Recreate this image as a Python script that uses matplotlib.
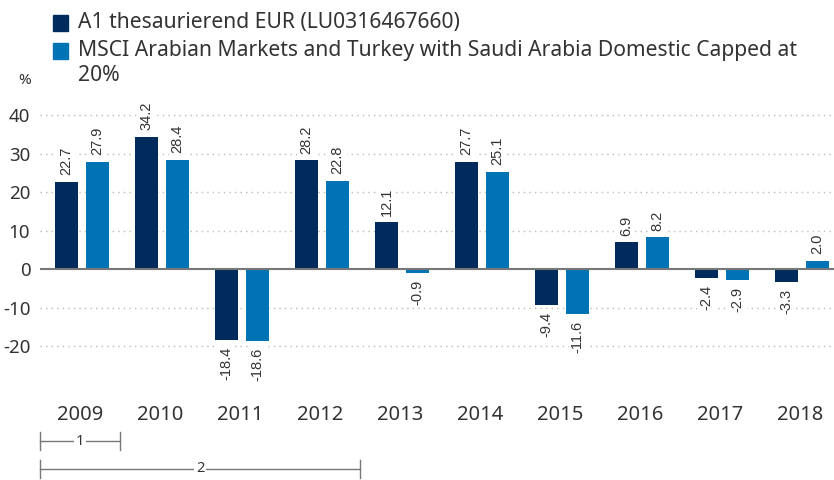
"""
Annual performance bar chart: fund vs. benchmark
"""
import matplotlib
matplotlib.use("Agg")
import matplotlib.pyplot as plt
from matplotlib.patches import Rectangle
from matplotlib.transforms import blended_transform_factory
import numpy as np

years = ["2009", "2010", "2011", "2012", "2013", "2014", "2015", "2016", "2017", "2018"]
fund = [22.7, 34.2, -18.4, 28.2, 12.1, 27.7, -9.4, 6.9, -2.4, -3.3]
bench = [27.9, 28.4, -18.6, 22.8, -0.9, 25.1, -11.6, 8.2, -2.9, 2.0]
series_names = [
    "A1 thesaurierend EUR (LU0316467660)",
    "MSCI Arabian Markets and Turkey with Saudi Arabia Domestic Capped at\n20%",
]
yticks = [40, 30, 20, 10, 0, -10, -20]
brackets = [("1", 1), ("2", 4)]  # label, number of years spanned

DARK = "#002b5c"
LIGHT = "#0073b5"
TEXT = "#333333"
GRAY = "#777777"

plt.rcParams["font.family"] = ["Noto Sans", "DejaVu Sans"]
plt.rcParams["axes.unicode_minus"] = False

fig = plt.figure(figsize=(8.34, 4.8), dpi=100)
ax = fig.add_axes([40 / 834, 90 / 480, 794 / 834, 290 / 480])

x = np.arange(len(years))
w = 0.2875
b1 = ax.bar(x - 0.17, fund, w, color=DARK, zorder=2)
b2 = ax.bar(x + 0.22, bench, w, color=LIGHT, zorder=2)

for bars, vals in ((b1, fund), (b2, bench)):
    for rect, v in zip(bars, vals):
        cx = rect.get_x() + rect.get_width() / 2
        ax.annotate(f"{v:.1f}", (cx, v), xytext=(0, 5 if v >= 0 else -5),
                    textcoords="offset points", rotation=90,
                    ha="center", va="bottom" if v >= 0 else "top",
                    fontsize=10.5, family="Liberation Sans", color=TEXT,
                    bbox=dict(facecolor="white", edgecolor="none", pad=1.5),
                    zorder=4)

ax.set_xlim(-0.5, 9.425)
ax.set_ylim(-31.4, 43.9)
ax.set_yticks(yticks)
ax.set_xticks(x)
ax.set_xticklabels(years)
ax.tick_params(axis="both", length=0, labelsize=13.5, colors=TEXT)
ax.tick_params(axis="x", pad=11, labelsize=14.5)
ax.tick_params(axis="y", pad=7)
for s in ax.spines.values():
    s.set_visible(False)

for t in yticks:
    if t != 0:
        ax.axhline(t, color="#bbbbbb", lw=1, ls=(0, (1, 3)), zorder=1)
ax.axhline(0, color=GRAY, lw=1.5, zorder=3)

# period brackets below the axis
trans = blended_transform_factory(ax.transData, ax.transAxes)
for i, (lab, n) in enumerate(brackets):
    yb = -0.176 - 0.096 * i
    x0, x1 = -0.5, -0.5 + n
    ax.plot([x0, x1], [yb, yb], color=GRAY, lw=1, transform=trans, clip_on=False)
    for xe in (x0, x1):
        ax.plot([xe, xe], [yb - 0.03, yb + 0.03], color=GRAY, lw=1,
                transform=trans, clip_on=False)
    ax.text((x0 + x1) / 2, yb, lab, ha="center", va="center", fontsize=10.5,
            color=TEXT, transform=trans,
            bbox=dict(facecolor="white", edgecolor="none", pad=1))

# legend
for (name, col, ytop) in ((series_names[0], DARK, 23), (series_names[1], LIGHT, 51)):
    fig.patches.append(Rectangle((53 / 834, 1 - (ytop + 8) / 480), 15 / 834, 16 / 480,
                                 transform=fig.transFigure, color=col))
    fig.text(78 / 834, 1 - (ytop - 11) / 480, name, ha="left", va="top",
             fontsize=15.2, color=TEXT, linespacing=1.25)
fig.text(25 / 834, 1 - 80 / 480, "%", ha="center", va="center", fontsize=11, color=TEXT)

fig.savefig("out.png", dpi=100)
